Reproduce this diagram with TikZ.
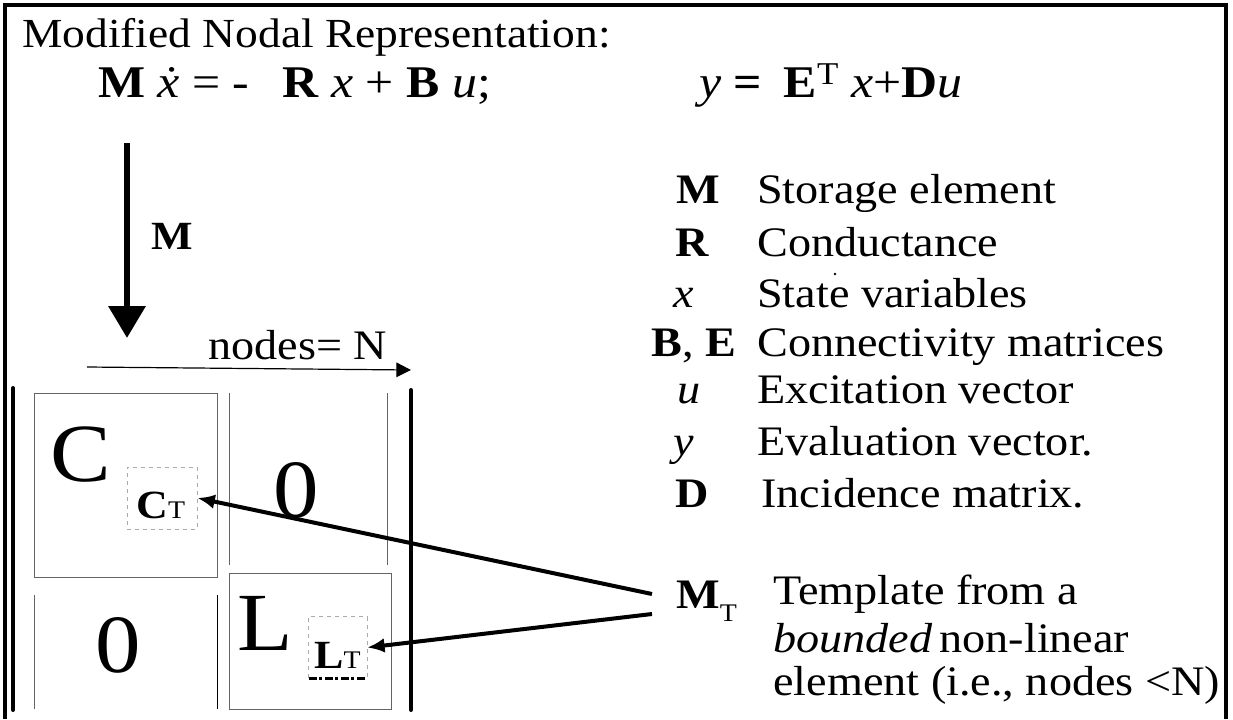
\documentclass[tikz,border=0pt]{standalone}
\usepackage{fontspec}
\setmainfont{Liberation Serif}[FakeStretch=1.1]
\usetikzlibrary{arrows.meta}
\newcommand{\fsz}[1]{\fontsize{#1}{#1}\selectfont}
\definecolor{boxgray}{RGB}{100,100,100}
\definecolor{dashgray}{RGB}{170,170,170}
\begin{document}
\begin{tikzpicture}[x=0.75pt,y=-0.75pt,
  txt/.style={inner sep=0pt, font=\fsz{31.5pt}},
  sym/.style={inner sep=0pt, anchor=base west, font=\fsz{31.5pt}},
  bigtxt/.style={inner sep=0pt, font=\fsz{62pt}},
  eqtxt/.style={inner sep=0pt, font=\fsz{34pt}},
  frameline/.style={line width=3pt},
  bar/.style={line width=3pt, line cap=round},
  thinbox/.style={draw=boxgray, line width=0.75pt},
  dashbox/.style={draw=dashgray, dashed, line width=0.75pt},
  ptr/.style={line width=3pt, -{Latex[length=13pt,width=11pt]}}]
\useasboundingbox (0,0) rectangle (1233,719);
% frame
\draw[frameline] (5,719) -- (5,5) -- (1226,5) -- (1226,719);
% title and equations
\node[txt, anchor=base west, font=\fsz{31pt}] (title) at (22,47) {Modified Nodal Representation:};
\node[eqtxt, anchor=base west] (eqA) at (98,97) {\textbf{M} \textit{\.x} = -\hspace{0.45em} \textbf{R} \textit{x} + \textbf{B} \textit{u};};
\node[eqtxt, anchor=base west] (eqB) at (699,97) {\textit{y} \textbf{=} \hspace{0.2em}\textbf{E}\textsuperscript{T} \textit{x}+\textbf{D}\textit{u}};
% down arrow
\coordinate (dA) at (127,143);
\coordinate (dB) at (127,338);
\draw[line width=5pt, -{Triangle[length=24pt,width=27pt]}] (dA) -- (dB);
\node[inner sep=0pt, font=\fsz{30pt}\bfseries] (mlab) at (172,236) {M};
% nodes = N
\node[txt, anchor=base west] (nodes) at (208,359) {nodes= N};
\coordinate (nA) at (87,367);
\coordinate (nB) at (411,370);
\draw[line width=0.9pt, -{Triangle[length=11pt,width=11pt]}] (nA) -- (nB);
% matrix bars
\draw[bar] (13,388) -- (13,710);
\draw[bar] (411,390) -- (411,710);
% C block
\draw[thinbox] (34,393) rectangle (217,577);
\node[bigtxt] (C) at (81,455) {C};
\node[dashbox, minimum width=70*0.75pt, minimum height=62*0.75pt, inner sep=0pt] (CT) at (162,498) {};
\node[inner sep=0pt, anchor=base west] (CTt) at (136,518) {\fsz{30pt}\textbf{C}\fsz{19pt}T};
% top right zero
\draw[boxgray, line width=0.75pt] (229,393) -- (229,565);
\draw[boxgray, line width=0.75pt] (387,393) -- (387,565);
\node[bigtxt] (Z1) at (296,490) {0};
% bottom left zero
\draw[boxgray, line width=0.75pt] (34,595) -- (34,709);
\draw[black, line width=0.75pt] (217,595) -- (217,709);
\node[bigtxt] (Z2) at (118,645) {0};
% L block
\draw[thinbox] (229,573) rectangle (391,709);
\node[bigtxt] (L) at (265,623) {L};
\node[inner sep=0pt, minimum width=58*0.75pt, minimum height=61*0.75pt] (LT) at (338,647.5) {};
\draw[dashbox] (LT.south west) -- (LT.north west) -- (LT.north east) -- (LT.south east);
\draw[line width=2.2pt, dash pattern=on 6pt off 2pt on 2pt off 2pt] (LT.south west) -- (LT.south east);
\node[inner sep=0pt, anchor=base west] (LTt) at (314,668) {\fsz{30pt}\textbf{L}\fsz{19pt}T};
% legend
\node[sym, font=\fsz{31.5pt}\bfseries] (sM) at (676,203) {M};
\node[txt, anchor=base west] (tM) at (757,203) {Storage element};
\node[sym, font=\fsz{31.5pt}\bfseries] (sR) at (675,256) {R};
\node[txt, anchor=base west] (tR) at (757,256) {Conductance};
\node[sym] (sx) at (673,307) {\textit{x}};
\node[txt, anchor=base west] (tx) at (757,307) {State variables};
\fill (835,274) circle (1.3);
\node[sym] (sBE) at (651,356) {\textbf{B}, \textbf{E}};
\node[txt, anchor=base west] (tBE) at (757,356) {Connectivity matrices};
\node[sym] (su) at (677,403) {\textit{u}};
\node[txt, anchor=base west] (tu) at (757,403) {Excitation vector};
\node[sym] (sy) at (673,455) {\textit{y}};
\node[txt, anchor=base west] (ty) at (757,455) {Evaluation vector.};
\node[sym, font=\fsz{31.5pt}\bfseries] (sD) at (675,507) {D};
\node[txt, anchor=base west] (tD) at (761,507) {Incidence matrix.};
\node[sym] (sMT) at (676,608) {\textbf{M}\raisebox{-10pt}{\fsz{19pt}T}};
\node[txt, anchor=base west] (tMT1) at (773,604) {Template from a};
\node[txt, anchor=base west] (tMT2) at (773,652) {\textit{bounded}\,non-linear};
\node[txt, anchor=base west] (tMT3) at (773,695) {element (i.e., nodes <N)};
% pointer arrows
\coordinate (pA) at (652,594);
\coordinate (pB) at (652,614);
\draw[ptr] (pA) -- (CT.east);
\draw[ptr] (pB) -- (LT.east);
\end{tikzpicture}
\end{document}
